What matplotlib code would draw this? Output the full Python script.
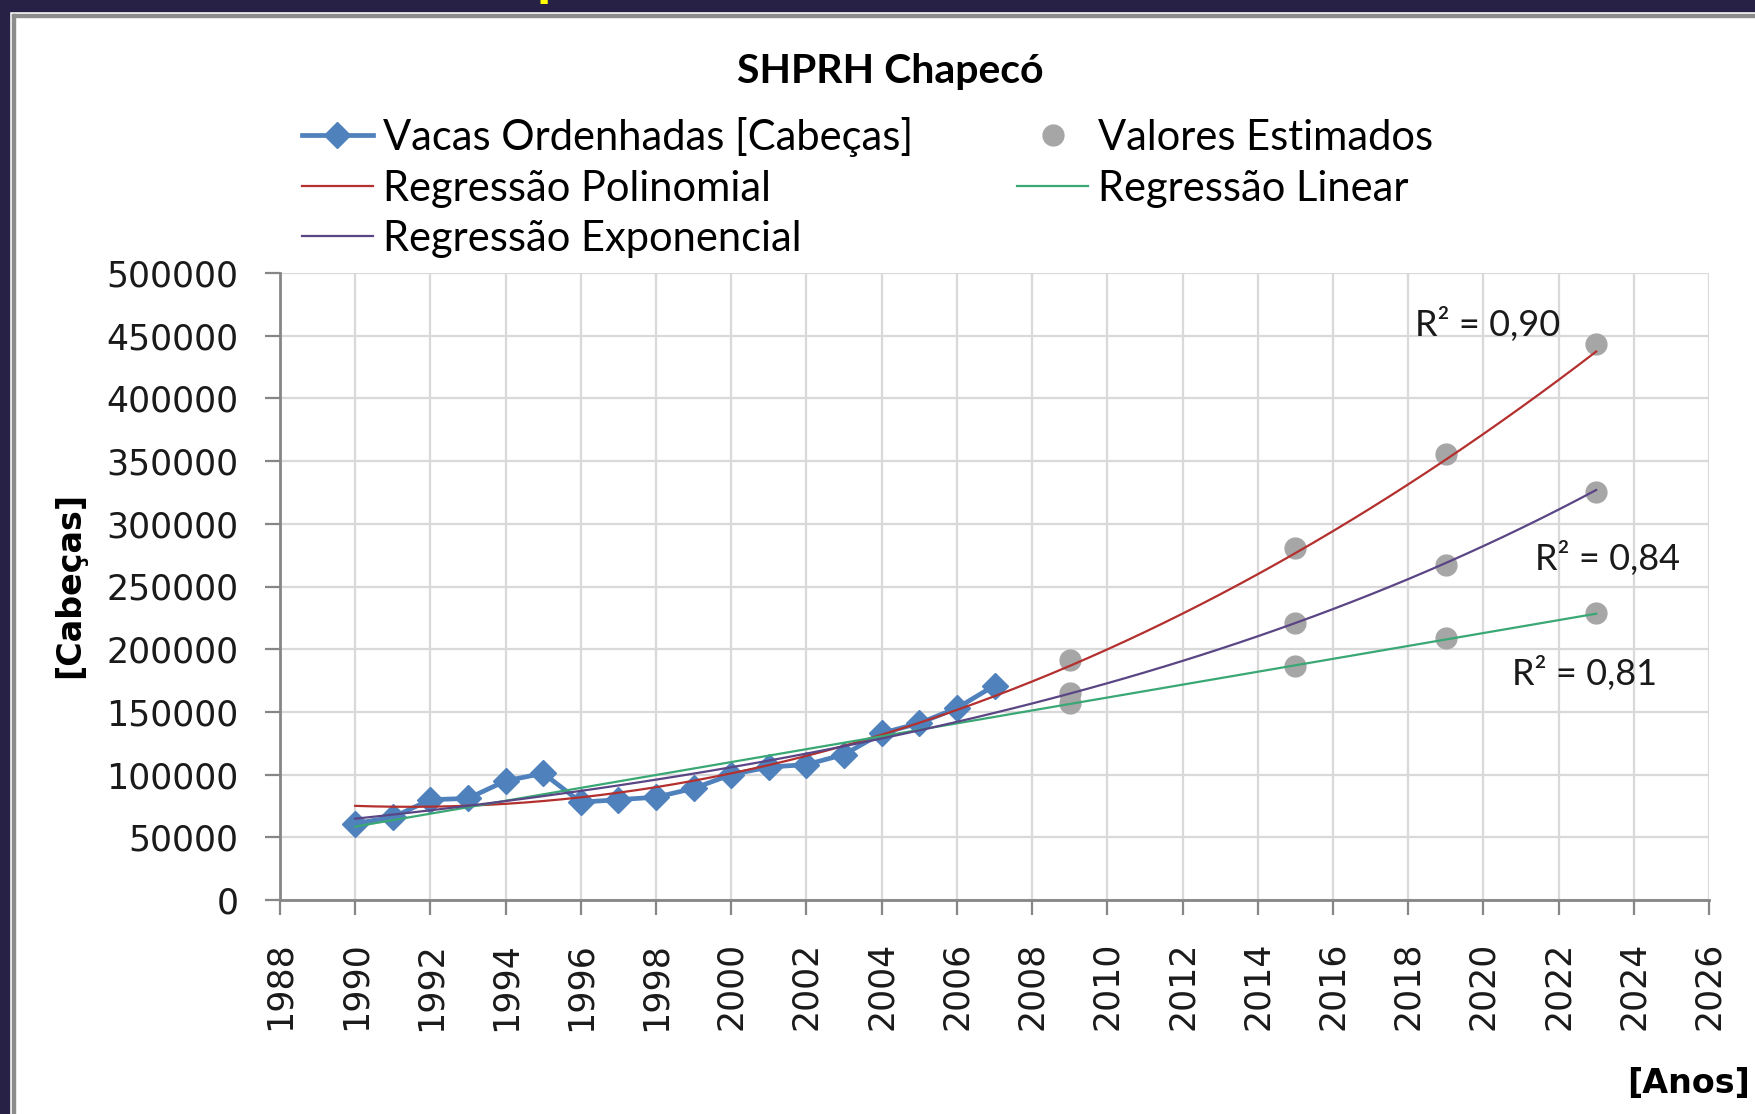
import numpy as np
import matplotlib
matplotlib.use("Agg")
import matplotlib.pyplot as plt
from matplotlib import font_manager
from matplotlib.patches import Rectangle

installed = {f.name for f in font_manager.fontManager.ttflist}
narrow = 'Liberation Sans Narrow' if 'Liberation Sans Narrow' in installed else 'Lato'

# observed data
anos = [1990, 1991, 1992, 1993, 1994, 1995, 1996, 1997, 1998,
        1999, 2000, 2001, 2002, 2003, 2004, 2005, 2006, 2007]
vacas = [61000, 66000, 80000, 81000, 95000, 101000, 78000, 80000, 82000,
         89000, 100000, 106000, 108000, 116000, 133000, 141000, 153000, 171000]

# estimated values
anos_est = [2009, 2015, 2019, 2023]
est_poli = [191000, 281000, 356000, 443000]
est_exp = [165000, 221000, 267000, 325000]
est_lin = [157000, 187000, 209000, 229000]

r2_labels = ['R² = 0,90', 'R² = 0,84', 'R² = 0,81']
r2_pos = [(2020.1, 459000), (2023.3, 272000), (2022.7, 181000)]

yticks = list(range(0, 500001, 50000))
xticks = list(range(1988, 2027, 2))

W, H = 1756, 1114
fig = plt.figure(figsize=(W / 100, H / 100), dpi=100, facecolor='white')
ax = fig.add_axes([280 / W, 1 - 900 / H, (1709 - 280) / W, (900 - 273) / H])

# dark band + frame of the slide
navy = '#272146'
fig.add_artist(Rectangle((0, 1 - 11 / H), 1, 11 / H, transform=fig.transFigure,
                         color=navy, zorder=1))
fig.add_artist(Rectangle((0, 0), 9 / W, 1, transform=fig.transFigure,
                         color=navy, zorder=1))
fig.add_artist(Rectangle((12 / W, 1 - 17 / H), 1, 3 / H, transform=fig.transFigure,
                         color='#8c8c8c', zorder=1))
fig.add_artist(Rectangle((12 / W, 0), 3 / W, 1 - 14 / H, transform=fig.transFigure,
                         color='#8c8c8c', zorder=1))
# bits of the slide title that peek in at the top
for px, ch in [(551, 'p'), (1168, '('), (1455, ')')]:
    fig.text(px / W, 1 - 4 / H, ch, color='#ffff00', fontsize=30, weight='bold',
             ha='center', va='bottom', zorder=4)

t = np.array(anos, dtype=float)
y = np.array(vacas, dtype=float)
tt = np.linspace(1990, 2023, 67)
c_poli = np.polyfit(t - 1990, y, 2)
c_lin = np.polyfit(t - 1990, y, 1)
c_exp = np.polyfit(t - 1990, np.log(y), 1)
y_poli = np.polyval(c_poli, tt - 1990)
y_lin = np.polyval(c_lin, tt - 1990)
y_exp = np.exp(np.polyval(c_exp, tt - 1990))

blue = '#4F81BD'
ax.plot(anos, vacas, color=blue, lw=3.4, marker='D', ms=13, zorder=3,
        label='Vacas Ordenhadas [Cabeças]')
gray_kw = dict(color='#a6a6a6', marker='o', ms=15, ls='none', zorder=3)
ax.plot(anos_est, est_poli, label='Valores Estimados', **gray_kw)
ax.plot(anos_est, est_exp, **gray_kw)
ax.plot(anos_est, est_lin, **gray_kw)
ax.plot(tt, y_poli, color='#b3302e', lw=1.6, zorder=4, label='Regressão Polinomial')
ax.plot(tt, y_lin, color='#3aa874', lw=1.6, zorder=4, label='Regressão Linear')
ax.plot(tt, y_exp, color='#5a4585', lw=1.6, zorder=4, label='Regressão Exponencial')

for lab, (xp, yp) in zip(r2_labels, r2_pos):
    ax.text(xp, yp, lab, fontsize=26, family=narrow, ha='center', va='center', color='#1a1a1a')

ax.set_xlim(1988, 2026)
ax.set_ylim(0, 500000)
ax.set_xticks(xticks)
ax.set_xticklabels([str(v) for v in xticks], rotation=90, fontsize=25, color='#1a1a1a')
ax.set_yticks(yticks)
ax.set_yticklabels([str(v) for v in yticks], fontsize=25, color='#1a1a1a')
ax.grid(True, color='#d9d9d9', lw=1.6)
ax.set_axisbelow(True)
for s in ['top', 'right']:
    ax.spines[s].set_visible(False)
for s in ['left', 'bottom']:
    ax.spines[s].set_color('#868686')
    ax.spines[s].set_linewidth(2)
ax.tick_params(axis='both', length=11, width=1.6, color='#868686', direction='out')
ax.tick_params(axis='x', pad=19)
ax.tick_params(axis='y', pad=19)

fig.text(890 / W, 1 - 71 / H, 'SHPRH Chapecó', fontsize=29.5, weight='bold', family=narrow,
         ha='center', va='center')
fig.text(70 / W, 1 - 585 / H, '[Cabeças]', fontsize=24, weight='bold', rotation=90,
         ha='center', va='center')
fig.text(1750 / W, 1 - 1083 / H, '[Anos]', fontsize=24, weight='bold', ha='right', va='center')

h, l = ax.get_legend_handles_labels()
order = [0, 2, 4, 1, 3]
fig.legend([h[i] for i in order], [l[i] for i in order], ncol=2, frameon=False,
           loc='upper left', bbox_to_anchor=(302 / W, 1 - 117 / H),
           prop={'family': narrow, 'size': 30}, handlelength=1.7, handletextpad=0.24,
           columnspacing=2.5, labelspacing=0.3, borderpad=0, borderaxespad=0)

fig.savefig('out.png', dpi=100, facecolor='white')
